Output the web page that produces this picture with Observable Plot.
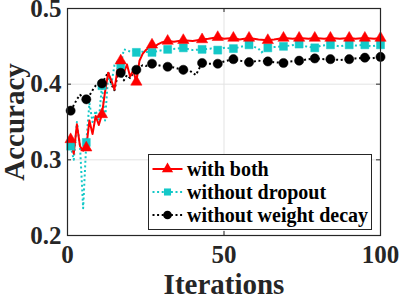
<!DOCTYPE html>
<html>
<head>
<meta charset="utf-8">
<script src="https://cdn.jsdelivr.net/npm/d3@7"></script>
<script src="https://cdn.jsdelivr.net/npm/@observablehq/plot@0.6"></script>
<style>
  html, body { margin: 0; padding: 0; background: #fff; }
  #wrap { position: relative; width: 399px; height: 299px; }
  #wrap svg text { font-family: "Liberation Serif", "Times New Roman", serif; }
  #legend { position: absolute; left: 148px; top: 154px; width: 222px; height: 72px;
    border: 1px solid #262626; background: #fff; padding-top: 2px; box-sizing: content-box;
    font-family: "Liberation Serif", "Times New Roman", serif; font-weight: bold; font-size: 20px; }
  .row { display: flex; align-items: center; height: 23px; }
  .row svg { width: 38px; height: 22px; flex: none; }
  .row span { white-space: nowrap; line-height: 22px; }
</style>
</head>
<body>
<div id="wrap"></div>
<script>
// ---- data ----
const seriesNames = ["with both", "without dropout", "without weight decay"];
const xTicks = [0, 50, 100];
const yTicks = [0.2, 0.3, 0.4, 0.5];
const markerIters = [1, 6, 11, 17, 22, 27, 32, 37, 43, 48, 53, 58, 64, 69, 74, 79, 84, 90, 95, 100];

const withBoth = [
  [1,0.327],[2,0.308],[3,0.347],[4,0.318],[5,0.312],[6,0.316],[7,0.352],[8,0.334],[9,0.358],[10,0.346],
  [11,0.360],[12,0.390],[13,0.415],[14,0.405],[15,0.393],[16,0.420],[17,0.431],[18,0.415],[19,0.426],[20,0.410],
  [21,0.418],[22,0.403],[23,0.431],[24,0.440],[25,0.445],[26,0.448],[27,0.452],[28,0.450],[29,0.453],[30,0.455],
  [32,0.457],[34,0.456],[37,0.458],[40,0.457],[43,0.459],[45,0.460],[48,0.462],[50,0.460],[53,0.461],[55,0.459],
  [58,0.461],[61,0.459],[64,0.458],[66,0.459],[69,0.461],[72,0.460],[74,0.461],[77,0.460],[79,0.461],[82,0.460],
  [84,0.461],[87,0.460],[90,0.461],[92,0.460],[95,0.461],[98,0.460],[100,0.461]
];
const withoutDropout = [
  [1,0.318],[2,0.300],[3,0.350],[4,0.318],[5,0.236],[6,0.323],[7,0.375],[8,0.350],[9,0.365],[10,0.352],
  [11,0.398],[12,0.352],[13,0.412],[14,0.400],[15,0.425],[16,0.430],[17,0.425],[18,0.446],[19,0.445],[20,0.443],
  [21,0.444],[22,0.442],[24,0.443],[27,0.442],[29,0.444],[32,0.446],[35,0.447],[37,0.448],[40,0.445],[43,0.446],
  [46,0.447],[48,0.445],[50,0.448],[53,0.447],[55,0.449],[58,0.452],[61,0.447],[62,0.442],[64,0.448],[66,0.449],
  [69,0.450],[71,0.451],[74,0.453],[76,0.450],[79,0.448],[81,0.451],[84,0.452],[87,0.450],[90,0.452],[92,0.451],
  [95,0.452],[97,0.450],[100,0.452]
];
const withoutWeightDecay = [
  [1,0.365],[2,0.372],[3,0.380],[4,0.386],[5,0.382],[6,0.380],[7,0.385],[8,0.392],[9,0.398],[10,0.396],
  [11,0.401],[12,0.408],[13,0.416],[14,0.400],[15,0.392],[16,0.412],[17,0.415],[18,0.405],[19,0.412],[20,0.408],
  [21,0.415],[22,0.419],[23,0.422],[24,0.425],[25,0.424],[27,0.427],[29,0.425],[30,0.424],[32,0.423],[34,0.422],
  [37,0.419],[39,0.418],[41,0.412],[43,0.428],[45,0.427],[48,0.427],[50,0.430],[53,0.433],[55,0.431],[58,0.429],
  [61,0.431],[64,0.430],[66,0.429],[69,0.428],[71,0.430],[74,0.431],[77,0.433],[79,0.434],[82,0.433],[84,0.433],
  [87,0.432],[90,0.433],[92,0.434],[95,0.435],[97,0.434],[100,0.436]
];

// ---- styling ----
const RED = "#ff0000", CYAN = "#14c8c8", BLACK = "#000000", AXIS = "#262626";
const FONT = "Liberation Serif, Times New Roman, serif";
const W = 399, H = 299, ML = 67, MR = 19, MT = 8, MB = 64;
const FW = W - ML - MR, FH = H - MT - MB;
const isMarker = d => markerIters.includes(d[0]);

const series = [
  {data: withoutDropout, color: CYAN, dash: "2,2.6", symbol: "square", r: 4.5, width: 2},
  {data: withoutWeightDecay, color: BLACK, dash: "2,2.6", symbol: "circle", r: 4.6, width: 2},
  {data: withBoth, color: RED, dash: null, symbol: "triangle", r: 4.2, width: 2}
];

const marks = [
  Plot.gridY(yTicks.slice(1, -1), {stroke: "#e3e3e3", strokeOpacity: 1, strokeWidth: 1}),
  Plot.gridX([50], {stroke: "#e3e3e3", strokeOpacity: 1, strokeWidth: 1}),
  Plot.tickY(yTicks, {stroke: AXIS, insetRight: FW - 4}),
  Plot.tickY(yTicks, {stroke: AXIS, insetLeft: FW - 4}),
  Plot.tickX(xTicks, {stroke: AXIS, insetTop: FH - 4}),
  Plot.tickX(xTicks, {stroke: AXIS, insetBottom: FH - 4})
];
for (const s of series) {
  marks.push(Plot.line(s.data, {x: d => d[0], y: d => d[1], stroke: s.color, strokeWidth: s.width,
    strokeDasharray: s.dash, strokeLinecap: "butt", strokeLinejoin: "round"}));
}
for (const s of series) {
  marks.push(Plot.dot(s.data.filter(isMarker), {x: d => d[0], y: d => d[1], symbol: s.symbol, r: s.r,
    fill: s.color, stroke: s.color, strokeWidth: 0.5}));
}
marks.push(
  Plot.frame({stroke: AXIS, strokeWidth: 1.2}),
  Plot.axisX(xTicks, {tickSize: 0, tickPadding: 10, fontSize: 25, fontWeight: "bold", fontFamily: FONT, fill: AXIS, label: null}),
  Plot.axisY(yTicks, {tickSize: 0, tickPadding: 6, fontSize: 25, fontWeight: "bold", fontFamily: FONT, fill: AXIS, label: null,
    tickFormat: d => d.toFixed(1)}),
  Plot.text(["Iterations"], {frameAnchor: "bottom", textAnchor: "middle", lineAnchor: "bottom", dy: 58,
    fontSize: 29, fontWeight: "bold", fontFamily: FONT, fill: AXIS}),
  Plot.text(["Accuracy"], {frameAnchor: "left", textAnchor: "middle", lineAnchor: "top", dx: -64, rotate: -90,
    fontSize: 29, fontWeight: "bold", fontFamily: FONT, fill: AXIS})
);

const chart = Plot.plot({
  width: W, height: H,
  marginLeft: ML, marginRight: MR, marginTop: MT, marginBottom: MB,
  x: {domain: [0, 100], ticks: xTicks},
  y: {domain: [0.2, 0.5], ticks: yTicks},
  style: {fontFamily: FONT, fontWeight: "bold", background: "#fff", overflow: "visible"},
  marks
});
const wrap = document.getElementById("wrap");
wrap.appendChild(chart);

// ---- legend ----
const legendSeries = [
  {name: seriesNames[0], color: RED, dash: null, symbol: "triangle"},
  {name: seriesNames[1], color: CYAN, dash: "2,2.6", symbol: "square"},
  {name: seriesNames[2], color: BLACK, dash: "2,2.6", symbol: "circle"}
];
const legend = document.createElement("div");
legend.id = "legend";
const symSize = {triangle: 55, square: 50, circle: 60};
for (const s of legendSeries) {
  const row = document.createElement("div");
  row.className = "row";
  const sym = d3.symbol(s.symbol === "triangle" ? d3.symbolTriangle : s.symbol === "square" ? d3.symbolSquare : d3.symbolCircle, symSize[s.symbol])();
  row.innerHTML = `<svg viewBox="0 0 38 22"><line x1="3.5" x2="33.5" y1="11" y2="11" stroke="${s.color}" stroke-width="2" ${s.dash ? `stroke-dasharray="${s.dash}"` : ""}/><path d="${sym}" transform="translate(18.5,11)" fill="${s.color}"/></svg><span>${s.name}</span>`;
  legend.appendChild(row);
}
wrap.appendChild(legend);
</script>
</body>
</html>
